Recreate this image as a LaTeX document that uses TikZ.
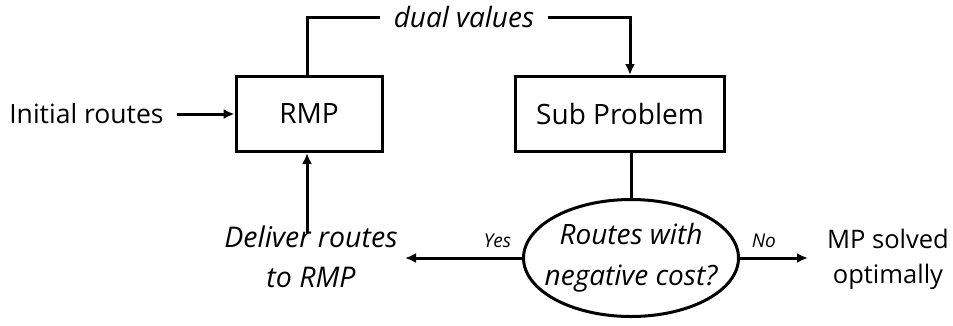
\documentclass[tikz,border=0pt]{standalone}
\usepackage{fontspec}
\setmainfont{Open Sans}
\usetikzlibrary{arrows.meta, positioning, shapes.geometric}

\begin{document}
\begin{tikzpicture}[x=1pt, y=-1pt, line width=3pt, >={Latex[length=11pt, width=10pt]},
    box/.style={draw, minimum height=75pt, inner sep=0pt, font=\fontsize{28}{30}\selectfont},
    txt/.style={align=center, inner sep=0pt, font=\fontsize{26.5}{40}\selectfont},
    lbl/.style={inner sep=0pt, font=\fontsize{19}{22}\selectfont\itshape}]
  \useasboundingbox (0,0) rectangle (953,325);
  \node [box, minimum width=146pt] (rmp) at (309,114) {RMP};
  \node [box, minimum width=209pt] (sub) at (620,114) {Sub Problem};
  \node [draw, ellipse, minimum width=215pt, minimum height=117pt, inner sep=0pt] (neg) at (631,258) {};
  \node [txt, font=\fontsize{28}{41}\selectfont\itshape] (question) at (neg) {Routes with\\negative cost?};
  \node [txt, anchor=east] (init) at (165,114) {Initial routes};
  \node [txt, font=\fontsize{28.5}{40}\selectfont\itshape] (deliver) at (311,257) {Deliver routes\\to RMP};
  \node [txt, font=\fontsize{25.5}{35}\selectfont] (solved) at (888,259) {MP solved\\optimally};
  \node [txt, inner xsep=12pt, font=\fontsize{28}{30}\selectfont\itshape] (dual) at (464,17) {dual values};
  \coordinate (dl) at (307,17);
  \coordinate (dr) at (630,17);
  \coordinate (yes) at (405,258);
  \coordinate (no) at (808,258);
  % feedback loop
  \draw (rmp.north -| dl) -- (dl) -- (dual);
  \draw [->] (dual) -- (dr) -- (sub.north -| dr);
  \draw (sub.south -| neg) -- (neg);
  \draw [->] (init.east) ++(12pt,0) -- (rmp);
  \draw [->] (neg) -- node [lbl, above=9pt, pos=0.21] {Yes} (yes);
  \draw [->] (neg) -- node [lbl, above=9pt, pos=0.35] {No} (no);
  \draw [->] (deliver.north -| dl) ++(0,-8pt) -- (rmp.south -| dl);
\end{tikzpicture}
\end{document}
